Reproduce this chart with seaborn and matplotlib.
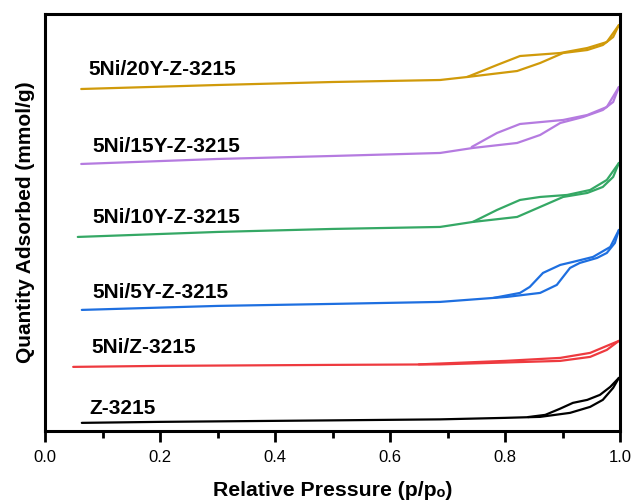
import matplotlib
matplotlib.use("Agg")
import matplotlib.pyplot as plt
import seaborn as sb
from matplotlib.ticker import MultipleLocator

sb.set_style("white")
plt.rcParams['font.family'] = ['Liberation Sans', 'DejaVu Sans']

# isotherm data (stacked, arbitrary offset units)
names = ['Z-3215', '5Ni/Z-3215', '5Ni/5Y-Z-3215', '5Ni/10Y-Z-3215', '5Ni/15Y-Z-3215', '5Ni/20Y-Z-3215']
colors = ['#000000', '#EE3A3F', '#1E6FE0', '#35A865', '#B57BE0', '#D09A0A']

z_ads_x = [0.064, 0.2, 0.5, 0.687, 0.80, 0.861, 0.913, 0.948, 0.970, 0.988, 0.998]
z_ads_y = [8, 9, 10.5, 11.5, 13, 14, 18, 24, 31, 43, 53]
z_des_x = [0.998, 0.983, 0.965, 0.943, 0.918, 0.895, 0.87, 0.84]
z_des_y = [53, 44, 36, 31, 28, 22, 16, 13.8]

ni_ads_x = [0.049, 0.2, 0.5, 0.687, 0.896, 0.948, 0.977, 0.998]
ni_ads_y = [64, 65, 66, 66.5, 70, 74, 81, 90]
ni_des_x = [0.998, 0.977, 0.948, 0.896, 0.8, 0.65]
ni_des_y = [90, 85, 78, 73, 70, 66.5]

y5_ads_x = [0.064, 0.3, 0.5, 0.687, 0.803, 0.861, 0.890, 0.913, 0.930, 0.960, 0.977, 0.991, 0.998]
y5_ads_y = [121, 125, 127, 129, 134, 138, 146, 163, 168, 173, 178, 188, 201]
y5_des_x = [0.998, 0.983, 0.953, 0.918, 0.896, 0.866, 0.843, 0.826, 0.78]
y5_des_y = [201, 184, 174, 169, 166, 158, 144, 138, 133]

y10_ads_x = [0.057, 0.3, 0.5, 0.687, 0.744, 0.821, 0.861, 0.901, 0.943, 0.970, 0.988, 0.998]
y10_ads_y = [194, 199, 202, 204, 209, 214, 224, 234, 238, 244, 254, 268]
y10_des_x = [0.998, 0.977, 0.948, 0.908, 0.861, 0.826, 0.786, 0.744]
y10_des_y = [268, 251, 241, 236, 234, 231, 221, 209]

y15_ads_x = [0.063, 0.3, 0.5, 0.687, 0.744, 0.821, 0.861, 0.896, 0.936, 0.970, 0.988, 0.998]
y15_ads_y = [267, 272, 275, 278, 283, 288, 296, 308, 314, 321, 329, 344]
y15_des_x = [0.998, 0.977, 0.943, 0.901, 0.826, 0.786, 0.742]
y15_des_y = [344, 324, 316, 311, 307, 298, 284]

y20_ads_x = [0.063, 0.3, 0.5, 0.687, 0.734, 0.821, 0.861, 0.901, 0.943, 0.970, 0.988, 0.998]
y20_ads_y = [342, 346, 349, 351, 354, 360, 368, 378, 381, 386, 394, 406]
y20_des_x = [0.998, 0.977, 0.943, 0.896, 0.826, 0.786, 0.734]
y20_des_y = [406, 389, 383, 378, 375, 366, 354]

ads = [(z_ads_x, z_ads_y), (ni_ads_x, ni_ads_y), (y5_ads_x, y5_ads_y),
       (y10_ads_x, y10_ads_y), (y15_ads_x, y15_ads_y), (y20_ads_x, y20_ads_y)]
des = [(z_des_x, z_des_y), (ni_des_x, ni_des_y), (y5_des_x, y5_des_y),
       (y10_des_x, y10_des_y), (y15_des_x, y15_des_y), (y20_des_x, y20_des_y)]

# label anchor (x in p/p0, y in plot units)
label_x = [0.078, 0.080, 0.082, 0.082, 0.083, 0.075]
label_y = [22, 83, 138, 213, 284, 362]

fig = plt.figure(figsize=(6.34, 5.01), dpi=100)
ax = fig.add_axes([0.071, 0.140, 0.907, 0.832])

for i in range(len(names)):
    sb.lineplot(x=ads[i][0], y=ads[i][1], sort=False, color=colors[i], lw=1.6, ax=ax)
    sb.lineplot(x=des[i][0], y=des[i][1], sort=False, color=colors[i], lw=1.6, ax=ax)
    ax.text(label_x[i], label_y[i], names[i], fontsize=15, fontweight='bold',
            va='center', ha='left', color='black')

ax.set_xlim(0, 1.0)
ax.set_ylim(0, 417)
ax.set_yticks([])
ax.xaxis.set_major_locator(MultipleLocator(0.2))
ax.xaxis.set_minor_locator(MultipleLocator(0.1))
ax.tick_params(axis='x', which='major', direction='out', length=8, width=2, labelsize=12,
               pad=6, bottom=True, color='black', labelcolor='black')
ax.tick_params(axis='x', which='minor', direction='out', length=5, width=2, bottom=True, color='black')
for s in ax.spines.values():
    s.set_linewidth(2.2)
    s.set_color('black')

ax.set_xlabel('Relative Pressure (p/p\u2092)', fontsize=15.3, fontweight='bold', labelpad=11, color='black')
ax.set_ylabel('Quantity Adsorbed (mmol/g)', fontsize=15, fontweight='bold', labelpad=7, color='black')

plt.savefig('out.png', dpi=100)
